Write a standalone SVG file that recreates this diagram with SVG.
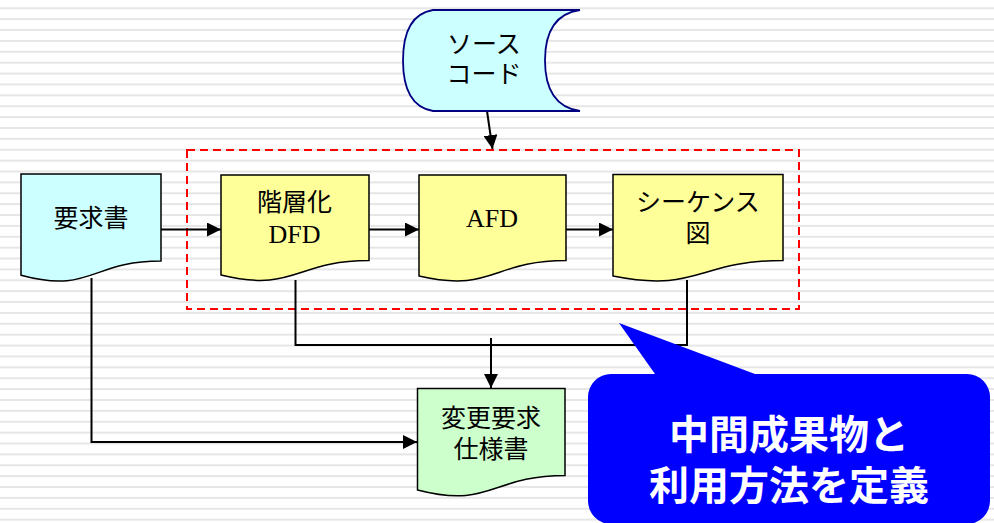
<svg xmlns="http://www.w3.org/2000/svg" width="994" height="523" viewBox="0 0 994 523">
  <style>
    .doc { stroke: #000; stroke-width: 1.5; }
    .jp { font-family: "Noto Sans CJK JP", "Noto Sans", sans-serif; font-size: 25px; fill: #000; text-anchor: middle; }
    .lat { font-family: "Liberation Serif", "Times New Roman", serif; font-size: 26px; fill: #000; text-anchor: middle; }
    .conn { fill: none; stroke: #000; stroke-width: 2; }
    .callout-text { font-family: "Noto Sans CJK JP", sans-serif; font-size: 40px; font-weight: bold; fill: #fff; text-anchor: middle; }
  </style>
  <defs>
    <pattern id="stripes" patternUnits="userSpaceOnUse" x="0" y="7.3" width="994" height="10.88">
      <rect x="0" y="0" width="994" height="2" fill="#e6e6e6"/>
    </pattern>
    <marker id="arrow" viewBox="0 0 14 14" refX="14" refY="7" markerWidth="14" markerHeight="14" markerUnits="userSpaceOnUse" orient="auto">
      <path d="M0,0 L14,7 L0,14 Z" fill="#000"/>
    </marker>
  </defs>

  <rect x="0" y="0" width="994" height="523" fill="#fff"/>
  <rect x="0" y="0" width="994" height="523" fill="url(#stripes)"/>

  <!-- dashed group rectangle -->
  <rect id="group-frame" x="187" y="150" width="612" height="159" fill="none" stroke="#ff0000" stroke-width="2" stroke-dasharray="8 5"/>

  <g id="connectors">
    <line class="conn" x1="487" y1="111" x2="492.5" y2="149" marker-end="url(#arrow)"/>
    <line class="conn" x1="161" y1="229.5" x2="221" y2="229.5" marker-end="url(#arrow)"/>
    <line class="conn" x1="369" y1="229.5" x2="419" y2="229.5" marker-end="url(#arrow)"/>
    <line class="conn" x1="566" y1="229.5" x2="613" y2="229.5" marker-end="url(#arrow)"/>
    <polyline class="conn" points="295.5,280 295.5,345 687,345 687,280"/>
    <line class="conn" x1="491" y1="338" x2="491" y2="388" marker-end="url(#arrow)"/>
    <polyline class="conn" points="91.5,278 91.5,442 417,442" marker-end="url(#arrow)"/>
  </g>

  <g id="source-code">
    <path d="M433,10 H580 Q545,15 545,60.5 Q545,106 580,111 H433 Q403,106 403,60.5 Q403,15 433,10 Z" fill="#ccffff" stroke="#000080" stroke-width="1.8"/>
    <text class="jp" x="484" y="53">ソース</text>
    <text class="jp" x="484" y="83">コード</text>
  </g>

  <g id="requirements">
    <path class="doc" d="M21,174 H161 V261 C91,261 91,294.2 21,275.3 Z" fill="#ccffff"/>
    <text class="jp" x="91" y="227">要求書</text>
  </g>

  <g id="dfd">
    <path class="doc" d="M221,175 H369 V260.5 C295,260.5 295,293 221,275 Z" fill="#ffff99"/>
    <text class="jp" x="294.5" y="211">階層化</text>
    <text class="lat" x="294.5" y="243">DFD</text>
  </g>

  <g id="afd">
    <path class="doc" d="M419,175 H566 V260.5 C492.5,260.5 492.5,293 419,276 Z" fill="#ffff99"/>
    <text class="lat" x="492" y="227">AFD</text>
  </g>

  <g id="sequence">
    <path class="doc" d="M613,174.5 H783 V260.5 C698,260.5 698,293 613,276 Z" fill="#ffff99"/>
    <text class="jp" x="698" y="211">シーケンス</text>
    <text class="jp" x="698" y="242">図</text>
  </g>

  <g id="change-spec">
    <path class="doc" d="M417.5,388.5 H565 V475.5 C491,475.5 491,509 417.5,490 Z" fill="#ccffcc"/>
    <text class="jp" x="491" y="427">変更要求</text>
    <text class="jp" x="491" y="458">仕様書</text>
  </g>

  <g id="callout">
    <path d="M611,374 H655 L619,323 L755,374 H967 A23,23 0 0 1 990,397 V501 A23,23 0 0 1 967,524 H611 A23,23 0 0 1 588,501 V397 A23,23 0 0 1 611,374 Z" fill="#0000ff"/>
    <text class="callout-text" x="789" y="449">中間成果物と</text>
    <text class="callout-text" x="789" y="500">利用方法を定義</text>
  </g>
</svg>
